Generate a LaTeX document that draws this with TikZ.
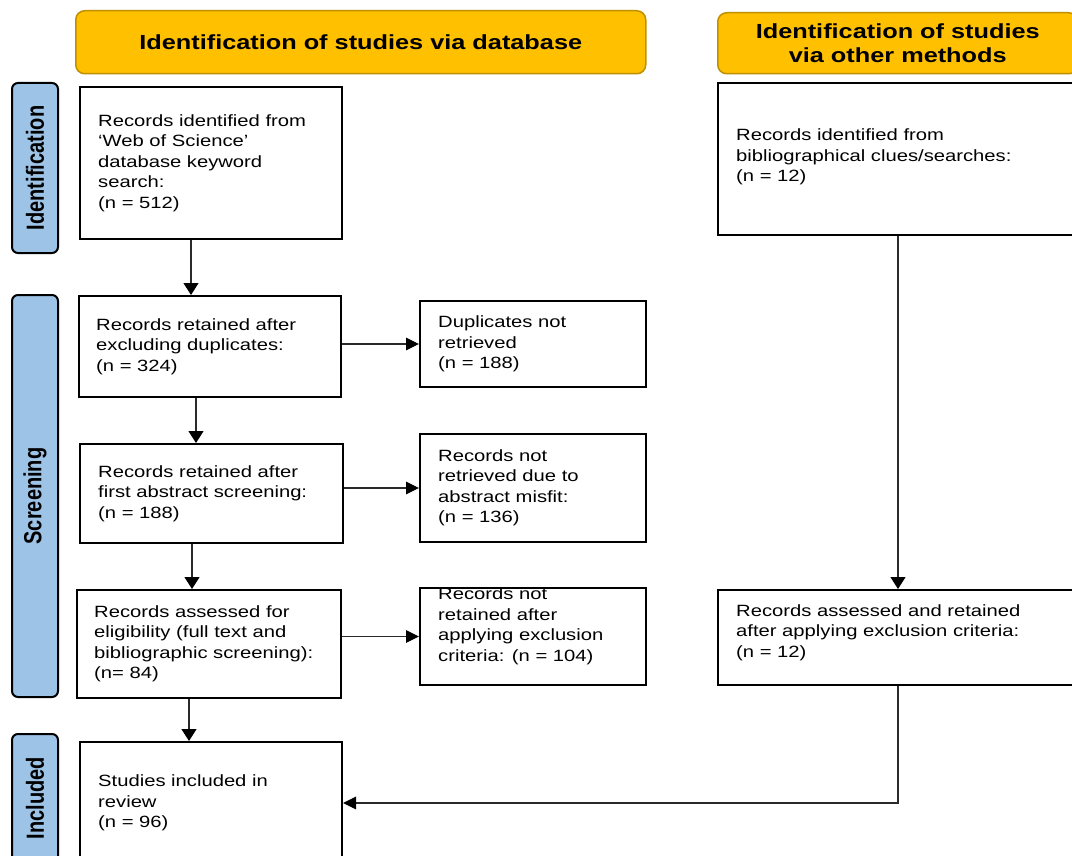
\documentclass[tikz,border=0pt]{standalone}
\usepackage{fontspec}
\setmainfont[FakeStretch=1.24]{Liberation Sans}
\newfontfamily\barfont{Liberation Sans}
\usetikzlibrary{arrows.meta}
\definecolor{hdrfill}{HTML}{FFC000}
\definecolor{hdrline}{HTML}{BF9000}
\definecolor{barfill}{HTML}{9DC3E6}
\definecolor{linkgray}{HTML}{2A2A2A}
\tikzset{
  box/.style={draw=black, line width=2pt, fill=white, anchor=north west, inner sep=0pt},
  txt/.style={anchor=west, align=left, inner sep=0pt, font=\fontsize{16.3}{20.5}\selectfont},
  hdr/.style={draw=hdrline, fill=hdrfill, line width=1.5pt, rounded corners=9pt, anchor=north west,
    align=center, inner sep=0pt, font=\bfseries\fontsize{20.4}{24}\selectfont},
  phase/.style={draw=black, fill=barfill, line width=2pt, rounded corners=6pt, rotate=90,
    inner sep=0pt, minimum height=46pt, font=\barfont\bfseries\fontsize{20}{24}\selectfont},
  link/.style={draw=linkgray, line width=1.2pt},
  arr/.style={link, -{Triangle[length=12pt,width=15pt,color=black]}},
  harr/.style={link, -{Triangle[length=13pt,width=12.5pt,color=black]}},
}
\begin{document}
\begin{tikzpicture}[x=1pt, y=-1pt]
\clip (0,0) rectangle (1072,856);
\fill[white] (0,0) rectangle (1072,856);

% column headers
\node[hdr, minimum width=570pt, minimum height=63pt] (h1) at (75,10)
  {Identification of studies via database};
\node[hdr, minimum width=360pt, minimum height=61pt] (h2) at (717,12)
  {Identification of studies\\via other methods};

% phase bars
\node[phase, minimum width=170pt] (p1) at (35,168) {\scalebox{1}[1.24]{Identification}};
\node[phase, minimum width=402pt] (p2) at (35,496) {\scalebox{1}[1.24]{Screening}};
\node[phase, minimum width=128pt] (p3) at (35,798) {\scalebox{1}[1.24]{Included}};

% database branch
\node[box, minimum width=262pt, minimum height=152pt] (b1) at (79,86) {};
\node[txt] (b1t) at ([xshift=19pt]b1.west)
  {Records identified from\\‘Web of Science’\\database keyword\\search:\\(n = 512)};
\node[box, minimum width=262pt, minimum height=101pt] (b2) at (78,295) {};
\node[txt] (b2t) at ([xshift=18pt]b2.west)
  {Records retained after\\excluding duplicates:\\(n = 324)};
\node[box, minimum width=263pt, minimum height=99pt] (b3) at (79,443) {};
\node[txt] (b3t) at ([xshift=19pt]b3.west)
  {Records retained after\\first abstract screening:\\(n = 188)};
\node[box, minimum width=264pt, minimum height=108pt] (b4) at (76,589) {};
\node[txt] (b4t) at ([xshift=18pt]b4.west)
  {Records assessed for\\eligibility (full text and\\bibliographic screening):\\(n= 84)};
\node[box, minimum width=262pt, minimum height=122pt] (b5) at (79,741) {};
\node[txt] (b5t) at ([xshift=19pt]b5.west)
  {Studies included in\\review\\(n = 96)};

% exclusions
\node[box, minimum width=226pt, minimum height=86pt] (d1) at (419,300) {};
\node[txt] (d1t) at ([xshift=19pt]d1.west)
  {Duplicates not\\retrieved\\(n = 188)};
\node[box, minimum width=226pt, minimum height=108pt] (d2) at (419,433) {};
\node[txt] (d2t) at ([xshift=19pt]d2.west)
  {Records not\\retrieved due to\\abstract misfit:\\(n = 136)};
\node[box, minimum width=226pt, minimum height=97pt] (d3) at (419,587) {};
\node[txt] (d3t) at ([xshift=19pt, yshift=10pt]d3.west)
  {Records not\\retained after\\applying exclusion\\criteria: (n = 104)};

% other methods branch
\node[box, minimum width=360pt, minimum height=152pt] (o1) at (717,82) {};
\node[txt] (o1t) at ([xshift=19pt, yshift=2pt]o1.west)
  {Records identified from\\bibliographical clues/searches:\\(n = 12)};
\node[box, minimum width=360pt, minimum height=95pt] (o2) at (717,589) {};
\node[txt] (o2t) at ([xshift=19pt, yshift=5pt]o2.west)
  {Records assessed and retained\\after applying exclusion criteria:\\(n = 12)};

% connector columns
\coordinate (v1) at (191,0);
\coordinate (v2) at (196,0);
\coordinate (v3) at (192,0);
\coordinate (v4) at (189,0);

\draw[arr] (b1.south -| v1) -- (b2.north -| v1);
\draw[arr] (b2.south -| v2) -- (b3.north -| v2);
\draw[arr] (b3.south -| v3) -- (b4.north -| v3);
\draw[arr] (b4.south -| v4) -- (b5.north -| v4);

\draw[harr] (b2.east |- d1.west) -- (d1.west);
\draw[harr] (b3.east |- d2.west) -- (d2.west);
\draw[harr] (b4.east |- d3.west) -- (d3.west);

\draw[arr] (o1.south) -- (o2.north);
\draw[harr] (o2.south) |- (b5.east);
\end{tikzpicture}
\end{document}
